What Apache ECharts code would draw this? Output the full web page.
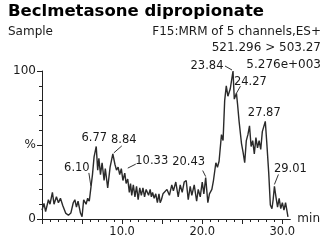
<!DOCTYPE html>
<html><head><meta charset="utf-8">
<script src="https://cdn.jsdelivr.net/npm/echarts@6/dist/echarts.min.js"></script>
<style>html,body{margin:0;padding:0;background:#fff}#c{width:323px;height:246px}</style>
</head><body><div id="c"></div>
<script>
// ---- data ----
const times = [0.0,0.25,0.45,0.8,1.0,1.3,1.5,1.8,2.05,2.3,2.6,2.95,3.3,3.6,3.9,4.1,4.3,4.5,4.8,5.0,5.2,5.5,5.7,5.9,6.1,6.3,6.5,6.77,6.95,7.1,7.3,7.5,7.75,7.9,8.2,8.5,8.84,9.1,9.3,9.5,9.7,9.9,10.1,10.33,10.5,10.7,10.9,11.05,11.2,11.4,11.6,11.8,12.0,12.2,12.4,12.6,12.8,13.0,13.3,13.5,13.65,13.8,14.0,14.2,14.4,14.6,14.75,14.9,15.1,15.3,15.6,15.9,16.2,16.4,16.7,17.0,17.25,17.5,17.75,18.0,18.25,18.5,18.7,19.0,19.3,19.5,19.75,20.0,20.2,20.43,20.7,20.9,21.2,21.4,21.7,21.9,22.1,22.4,22.6,22.8,23.0,23.2,23.5,23.84,24.0,24.27,24.4,24.6,24.9,25.1,25.3,25.5,25.7,25.9,26.1,26.3,26.5,26.7,26.9,27.1,27.3,27.5,27.87,28.05,28.3,28.5,28.7,28.85,29.01,29.2,29.4,29.6,29.8,30.0,30.2,30.4,30.7];
const intensity = [6,10.5,5,13,10,18,10,15,11,14,9,4,2.5,4,11,13,8,12,4,1.5,13,10,14,12,21,30,42,49,33,41,30,38,26,34,21,35,44,37,33,35,30,34,26,31,24,27,18,24,16,23,15,22,13,21,16,21,15,20,16,20,15,18,14,17,11,17,11,13,17,16,20,16,23,19,25,15,23,18,25,26,13,22,16,23,12,20,15,25,17,28,11,17,20,26,38,35,39,57,53,80,90,83,88,100,81,85,78,66,51,45,38,53,57,63,49,53,44,55,48,53,47,59,66,52,31,9.5,7,13,22,15,8,14,7,11,6,11,1.5];
const peakTimes  = [6.10, 6.77, 8.84, 10.33, 20.43, 23.84, 24.27, 27.87, 29.01];
const peakValues = [21, 49, 44, 31, 28, 100, 85, 66, 22];
const peakLabels = ['6.10','6.77','8.84','10.33','20.43','23.84','24.27','27.87','29.01'];
const xTickLabels = [10, 20, 30];
const yTickText = {0: '0', 50: '%', 100: '100'};
const titleText = 'Beclmetasone dipropionate';
const headerLeft = 'Sample';
const headerRight = ['F15:MRM of 5 channels,ES+', '521.296 > 503.27', '5.276e+003'];

// ---- label placement (pixel offsets from each peak) ----
const labelLayout = [
  {dx:-14, dy:-20, lead:[-2,-15, 0,-2]},
  {dx:-2,  dy:-8,  lead:null},
  {dx:11,  dy:-14, lead:[9,-8, 1,-1]},
  {dx:27,  dy:-12, lead:[11,-9, 3,-5]},
  {dx:-17, dy:-16, lead:[-3,-7, 0,-1]},
  {dx:-26, dy:-5,  lead:[-8,-5, -1,-1]},
  {dx:14,  dy:-11, lead:[4,-7, 0,0]},
  {dx:-1,  dy:-8,  lead:null},
  {dx:16,  dy:-17, lead:[4,-12, 0,-2]}
];

const FONT = '"DejaVu Sans", sans-serif';
const TXT = '#1a1a1a';
const lineData = times.map((t, i) => [t, intensity[i]]);
const peakData = peakTimes.map((t, i) => [t, peakValues[i], i]);
const xMajor = []; for (let v = 0; v <= 30; v += 5) xMajor.push(v);
const xMinor = []; for (let v = 0; v <= 30; v += 1) xMinor.push(v);

const chart = echarts.init(document.getElementById('c'), null, {renderer: 'canvas'});
chart.setOption({
  animation: false,
  backgroundColor: '#fff',
  grid: {left: 42, right: 32, top: 71, bottom: 27, containLabel: false},
  xAxis: [{
    type: 'value', min: 0, max: 31,
    name: 'min', nameLocation: 'end', nameGap: 7,
    nameTextStyle: {fontFamily: FONT, fontSize: 12, color: TXT, verticalAlign: 'middle', padding: [3,0,0,0]},
    axisLine: {show: true, onZero: false, lineStyle: {color: '#222', width: 1}},
    axisTick: {show: true, length: 5, customValues: xMajor, lineStyle: {color: '#222', width: 1}},
    axisLabel: {show: true, customValues: xTickLabels, formatter: v => v.toFixed(1), fontFamily: FONT, fontSize: 11.5, color: TXT, margin: 7},
    splitLine: {show: false}
  }, {
    type: 'value', min: 0, max: 31, position: 'bottom',
    axisLine: {show: false},
    axisTick: {show: true, length: 3, customValues: xMinor, lineStyle: {color: '#222', width: 1}},
    axisLabel: {show: false},
    splitLine: {show: false}
  }],
  yAxis: {
    type: 'value', min: 0, max: 100, interval: 50,
    axisLine: {show: true, lineStyle: {color: '#222', width: 1}},
    axisTick: {show: true, length: 5, lineStyle: {color: '#222', width: 1}},
    minorTick: {show: true, splitNumber: 5, length: 3, lineStyle: {color: '#222', width: 1}},
    axisLabel: {formatter: v => yTickText[v] !== undefined ? yTickText[v] : '', fontFamily: FONT, fontSize: 12, color: TXT, margin: 6},
    splitLine: {show: false}, minorSplitLine: {show: false}
  },
  graphic: [
    {type: 'text', left: 8, top: 3, style: {text: titleText, fontFamily: FONT, fontWeight: 'bold', fontSize: 16.5, fill: '#000'}},
    {type: 'text', x: 8, y: 32, style: {text: headerLeft, fontFamily: FONT, fontSize: 12, fill: TXT, verticalAlign: 'middle'}},
    {type: 'text', x: 321, y: 32, style: {text: headerRight[0], fontFamily: FONT, fontSize: 12, fill: TXT, align: 'right', verticalAlign: 'middle'}},
    {type: 'text', x: 321, y: 48, style: {text: headerRight[1], fontFamily: FONT, fontSize: 12, fill: TXT, align: 'right', verticalAlign: 'middle'}},
    {type: 'text', x: 321, y: 65, style: {text: headerRight[2], fontFamily: FONT, fontSize: 12, fill: TXT, align: 'right', verticalAlign: 'middle'}}
  ],
  series: [{
    type: 'line', data: lineData, xAxisIndex: 0, showSymbol: false, symbol: 'none',
    lineStyle: {color: '#2a2a2a', width: 1.4}, clip: false
  }, {
    type: 'custom', xAxisIndex: 0, data: peakData, clip: false, z: 5,
    renderItem: function (params, api) {
      const idx = api.value(2);
      const p = api.coord([api.value(0), api.value(1)]);
      const L = labelLayout[idx];
      const children = [{
        type: 'text', x: p[0] + L.dx, y: p[1] + L.dy,
        style: {text: peakLabels[idx], fontFamily: FONT, fontSize: 11.5, fill: TXT, align: 'center', verticalAlign: 'middle'}
      }];
      if (L.lead) {
        children.push({type: 'line', shape: {x1: p[0] + L.lead[0], y1: p[1] + L.lead[1], x2: p[0] + L.lead[2], y2: p[1] + L.lead[3]},
          style: {stroke: '#333', lineWidth: 1}});
      }
      return {type: 'group', children: children};
    }
  }]
});
</script></body></html>
